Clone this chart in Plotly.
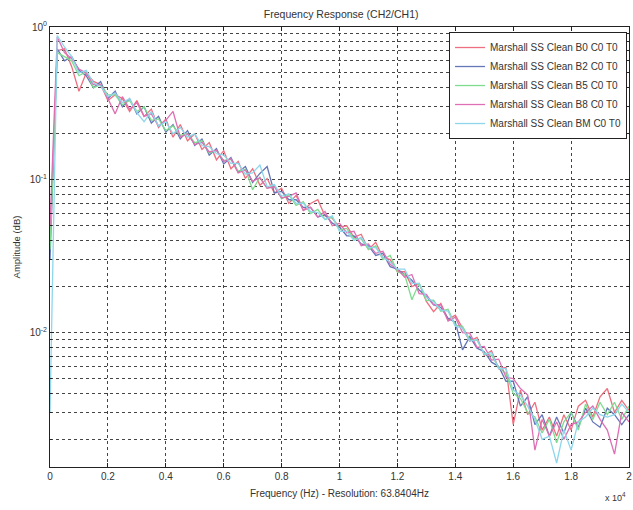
import plotly.graph_objects as go

# Frequency bins (Hz)
freqs = list(range(0, 20001, 250))

series_names = [
    "Marshall SS Clean B0 C0 T0",
    "Marshall SS Clean B2 C0 T0",
    "Marshall SS Clean B5 C0 T0",
    "Marshall SS Clean B8 C0 T0",
    "Marshall SS Clean BM C0 T0",
]

amp_b0 = [0.04, 0.70, 0.72, 0.55, 0.38, 0.50, 0.44, 0.42, 0.33, 0.36,
          0.34, 0.28, 0.33, 0.26, 0.29, 0.22, 0.25, 0.19, 0.23, 0.18,
          0.20, 0.158, 0.175, 0.135, 0.155, 0.118, 0.132, 0.102, 0.118, 0.092,
          0.102, 0.082, 0.088, 0.070, 0.079, 0.063, 0.070, 0.074, 0.058, 0.056,
          0.049, 0.050, 0.042, 0.044, 0.035, 0.039, 0.031, 0.030, 0.025, 0.025,
          0.020, 0.021, 0.016, 0.0137, 0.0155, 0.0122, 0.013, 0.0108, 0.0088, 0.0093,
          0.0071, 0.0076, 0.0058, 0.0059, 0.0025, 0.0042, 0.0029, 0.0035, 0.0023, 0.0028,
          0.0021, 0.0029, 0.0023, 0.0033, 0.0036, 0.0028, 0.0038, 0.0043, 0.0030, 0.0036,
          0.0031]

amp_b2 = [0.03, 0.72, 0.60, 0.64, 0.52, 0.48, 0.40, 0.44, 0.34, 0.38,
          0.30, 0.34, 0.27, 0.30, 0.235, 0.26, 0.205, 0.23, 0.185, 0.21,
          0.168, 0.185, 0.145, 0.16, 0.127, 0.14, 0.112, 0.122, 0.096, 0.11,
          0.122, 0.082, 0.084, 0.074, 0.074, 0.066, 0.066, 0.057, 0.059, 0.052,
          0.049, 0.043, 0.043, 0.038, 0.037, 0.032, 0.033, 0.027, 0.026, 0.024,
          0.022, 0.019, 0.0172, 0.0152, 0.0146, 0.0124, 0.0117, 0.0077, 0.0094, 0.0079,
          0.0075, 0.0064, 0.0060, 0.0048, 0.0048, 0.0033, 0.0038, 0.0025, 0.0029, 0.0021,
          0.0028, 0.0022, 0.0030, 0.0024, 0.0032, 0.0026, 0.0024, 0.0032, 0.0029, 0.0025,
          0.0029]

amp_b5 = [0.035, 0.68, 0.64, 0.60, 0.48, 0.51, 0.40, 0.42, 0.36, 0.36,
          0.31, 0.33, 0.28, 0.30, 0.245, 0.25, 0.21, 0.225, 0.195, 0.20,
          0.175, 0.18, 0.15, 0.155, 0.134, 0.136, 0.114, 0.117, 0.086, 0.104,
          0.088, 0.092, 0.075, 0.080, 0.068, 0.072, 0.060, 0.064, 0.055, 0.057,
          0.047, 0.048, 0.041, 0.041, 0.035, 0.037, 0.030, 0.032, 0.025, 0.024,
          0.0164, 0.021, 0.0162, 0.0163, 0.0138, 0.0142, 0.0112, 0.011, 0.0090, 0.0089,
          0.0073, 0.0071, 0.0059, 0.0054, 0.0040, 0.0037, 0.0030, 0.0028, 0.0022, 0.0027,
          0.0019, 0.0026, 0.0030, 0.0023, 0.0034, 0.0027, 0.0035, 0.0029, 0.0035, 0.0027,
          0.0033]

amp_b8 = [0.05, 0.86, 0.68, 0.62, 0.53, 0.50, 0.42, 0.42, 0.34, 0.27,
          0.35, 0.29, 0.32, 0.26, 0.27, 0.225, 0.245, 0.28, 0.19, 0.20,
          0.17, 0.176, 0.152, 0.156, 0.132, 0.137, 0.111, 0.116, 0.098, 0.103,
          0.088, 0.090, 0.076, 0.078, 0.082, 0.063, 0.066, 0.057, 0.062, 0.050,
          0.052, 0.045, 0.046, 0.037, 0.038, 0.033, 0.034, 0.028, 0.026, 0.023,
          0.024, 0.018, 0.0178, 0.0152, 0.0152, 0.0119, 0.0126, 0.0100, 0.0099, 0.0080,
          0.0081, 0.0066, 0.0067, 0.0051, 0.0050, 0.0043, 0.0039, 0.0017, 0.0027, 0.0021,
          0.0026, 0.0020, 0.0025, 0.0026, 0.0030, 0.0033, 0.0027, 0.0023, 0.0016, 0.0030,
          0.0026]

amp_bm = [0.003, 0.88, 0.74, 0.64, 0.50, 0.52, 0.43, 0.41, 0.35, 0.37,
          0.32, 0.34, 0.275, 0.24, 0.28, 0.225, 0.24, 0.20, 0.22, 0.19,
          0.20, 0.167, 0.165, 0.148, 0.145, 0.128, 0.128, 0.109, 0.111, 0.125,
          0.090, 0.093, 0.078, 0.081, 0.070, 0.070, 0.062, 0.061, 0.055, 0.058,
          0.046, 0.046, 0.040, 0.042, 0.036, 0.036, 0.031, 0.029, 0.026, 0.026,
          0.021, 0.021, 0.017, 0.0159, 0.0140, 0.0138, 0.0110, 0.0107, 0.0088, 0.0090,
          0.0072, 0.0074, 0.0058, 0.0058, 0.0042, 0.0039, 0.0033, 0.0027, 0.0020, 0.0021,
          0.0014, 0.0023, 0.0017, 0.0026, 0.0028, 0.0032, 0.0029, 0.0028, 0.0029, 0.0034,
          0.0030]

colors = ["#ee6f7f", "#6677b8", "#7fdc8f", "#de6fb4", "#8dd6ec"]

x_tick_vals = [0, 2000, 4000, 6000, 8000, 10000, 12000, 14000, 16000, 18000, 20000]
x_tick_text = ["0", "0.2", "0.4", "0.6", "0.8", "1", "1.2", "1.4", "1.6", "1.8", "2"]
y_tick_vals = [0.01, 0.1, 1]
y_tick_text = ["10<sup>-2</sup>", "10<sup>-1</sup>", "10<sup>0</sup>"]

FONT = "Liberation Sans, Arial, sans-serif"

fig = go.Figure()
for name, amps, col in zip(series_names, [amp_b0, amp_b2, amp_b5, amp_b8, amp_bm], colors):
    fig.add_trace(go.Scatter(x=freqs, y=amps, mode="lines", name=name,
                             line=dict(color=col, width=1.3)))

axis_common = dict(showline=True, linecolor="#222", linewidth=1, mirror="ticks",
                   ticks="inside", ticklen=4, tickcolor="#222",
                   showgrid=True, gridcolor="#444", griddash="dot", gridwidth=1,
                   zeroline=False, ticklabeloverflow="allow",
                   tickfont=dict(family=FONT, size=10, color="#333"))

fig.update_layout(
    width=633, height=510,
    margin=dict(l=50, r=1, t=27, b=43),
    paper_bgcolor="white", plot_bgcolor="white",
    font=dict(family=FONT, size=10, color="#333"),
    title=dict(text="Frequency Response (CH2/CH1)", x=0.539, xanchor="center",
               y=0.972, yanchor="middle", font=dict(family=FONT, size=10.5, color="#333")),
    xaxis=dict(range=[0, 20000], tickvals=x_tick_vals, ticktext=x_tick_text, **axis_common),
    yaxis=dict(type="log", range=[-2.88, 0], tickvals=y_tick_vals, ticktext=y_tick_text,
               minor=dict(dtick="D1", showgrid=True, gridcolor="#444", griddash="dot",
                          ticks="inside", ticklen=2, tickcolor="#222"),
               **axis_common),
    legend=dict(x=0.9966, xanchor="right", y=0.9886, yanchor="top",
                bgcolor="white", bordercolor="#222", borderwidth=1,
                font=dict(family=FONT, size=10, color="#333"),
                tracegroupgap=0),
    showlegend=True,
)

fig.add_annotation(text="Frequency (Hz) - Resolution: 63.8404Hz", xref="paper", yref="paper",
                   x=0.5, y=-0.043, xanchor="center", yanchor="top", showarrow=False,
                   font=dict(family=FONT, size=10, color="#333"))
fig.add_annotation(text="Amplitude (dB)", xref="paper", yref="paper", textangle=-90,
                   x=-0.045, y=0.5, xanchor="right", yanchor="middle", showarrow=False,
                   font=dict(family=FONT, size=9.5, color="#333"))
fig.add_annotation(text="x 10<sup>4</sup>", xref="paper", yref="paper",
                   x=0.998, y=-0.05, xanchor="right", yanchor="top", showarrow=False,
                   font=dict(family=FONT, size=9, color="#333"))

fig.write_html("out.html")
